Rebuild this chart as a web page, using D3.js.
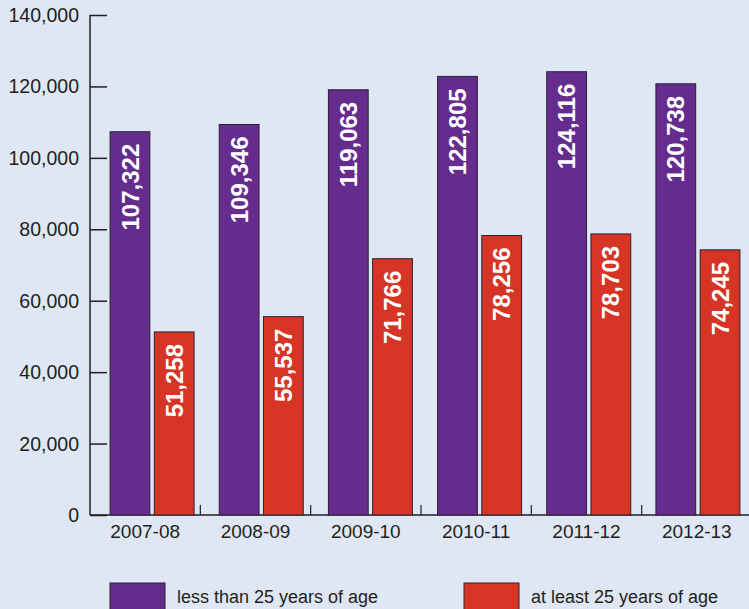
<!DOCTYPE html>
<html><head><meta charset="utf-8">
<script src="https://cdn.jsdelivr.net/npm/d3@7"></script>
<style>
html,body{margin:0;padding:0;background:#e0e7f4;}
svg{display:block;}
</style></head>
<body>
<script>
const categories = ["2007-08","2008-09","2009-10","2010-11","2011-12","2012-13"];
const under25 = [107322,109346,119063,122805,124116,120738];
const atLeast25 = [51258,55537,71766,78256,78703,74245];
const seriesNames = ["less than 25 years of age","at least 25 years of age"];
const seriesColors = ["#652c8e","#d63526"];
const yTicks = [0,20000,40000,60000,80000,100000,120000,140000];

const W = 749, H = 609;
const svg = d3.select("body").append("svg").attr("width",W).attr("height",H);
svg.append("rect").attr("width",W).attr("height",H).attr("fill","#e0e7f4");

const font = "'Liberation Sans', Arial, sans-serif";
const ink = "#231f20";

const y = d3.scaleLinear().domain([0,140000]).range([515,15]);
const xt = d3.scaleBand().domain(categories).range([90,752]);   // axis ticks & labels
const x = d3.scaleBand().domain(categories).range([97.5,752.5]); // bar groups
const xs = d3.scaleBand().domain([0,1]).range([-42,42]).paddingInner(0.1);

// y axis
const yAxis = svg.append("g").attr("transform","translate(90,0)")
  .call(d3.axisRight(y).tickValues(yTicks).tickSize(17).tickFormat(""));
yAxis.select(".domain").remove();
yAxis.selectAll(".tick line").attr("stroke",ink).attr("stroke-width",1.5);
svg.append("line").attr("x1",90).attr("x2",90).attr("y1",y(140000)).attr("y2",y(0))
  .attr("stroke",ink).attr("stroke-width",1.5);
svg.selectAll(".ylab").data(yTicks).enter().append("text")
  .attr("x",79).attr("y",d=>y(d)).attr("dy","0.36em")
  .attr("text-anchor","end").attr("font-family",font).attr("font-size",19.5)
  .attr("fill",ink).text(d=>d3.format(",")(d));

// x axis
svg.append("line").attr("x1",90).attr("x2",W).attr("y1",y(0)).attr("y2",y(0))
  .attr("stroke",ink).attr("stroke-width",1.5);
svg.selectAll(".xtick").data(categories.slice(1)).enter().append("line")
  .attr("x1",d=>xt(d)).attr("x2",d=>xt(d)).attr("y1",y(0)).attr("y2",y(0)-10)
  .attr("stroke",ink).attr("stroke-width",1.2);
svg.selectAll(".xlab").data(categories).enter().append("text")
  .attr("x",d=>xt(d)+xt.bandwidth()/2).attr("y",538)
  .attr("text-anchor","middle").attr("font-family",font).attr("font-size",19)
  .attr("fill",ink).text(d=>d);

// bars
const rows = categories.map((c,i)=>({c, vals:[under25[i],atLeast25[i]]}));
const g = svg.selectAll(".grp").data(rows).enter().append("g")
  .attr("transform",d=>`translate(${x(d.c)+x.bandwidth()/2},0)`);
const bars = g.selectAll(".bar").data(d=>d.vals.map((v,k)=>({v,k}))).enter();
bars.append("rect")
  .attr("x",d=>xs(d.k)).attr("width",xs.bandwidth())
  .attr("y",d=>y(d.v)).attr("height",d=>y(0)-y(d.v))
  .attr("fill",d=>seriesColors[d.k]).attr("stroke","#2a2233").attr("stroke-width",1);
bars.append("text")
  .attr("transform",d=>`translate(${xs(d.k)+xs.bandwidth()/2},${y(d.v)+12}) rotate(-90)`)
  .attr("dy","0.36em").attr("text-anchor","end")
  .attr("font-family",font).attr("font-weight","bold").attr("font-size",24)
  .attr("fill","#ffffff").text(d=>d3.format(",")(d.v));

// legend
const legX = [110,464];
const leg = svg.selectAll(".leg").data(seriesNames).enter().append("g")
  .attr("transform",(d,i)=>`translate(${legX[i]},583)`);
leg.append("rect").attr("width",55).attr("height",34)
  .attr("fill",(d,i)=>seriesColors[i]).attr("stroke","#2a2233").attr("stroke-width",1);
leg.append("text").attr("x",67).attr("y",20)
  .attr("font-family",font).attr("font-size",18).attr("fill",ink).text(d=>d);
</script>
</body></html>
